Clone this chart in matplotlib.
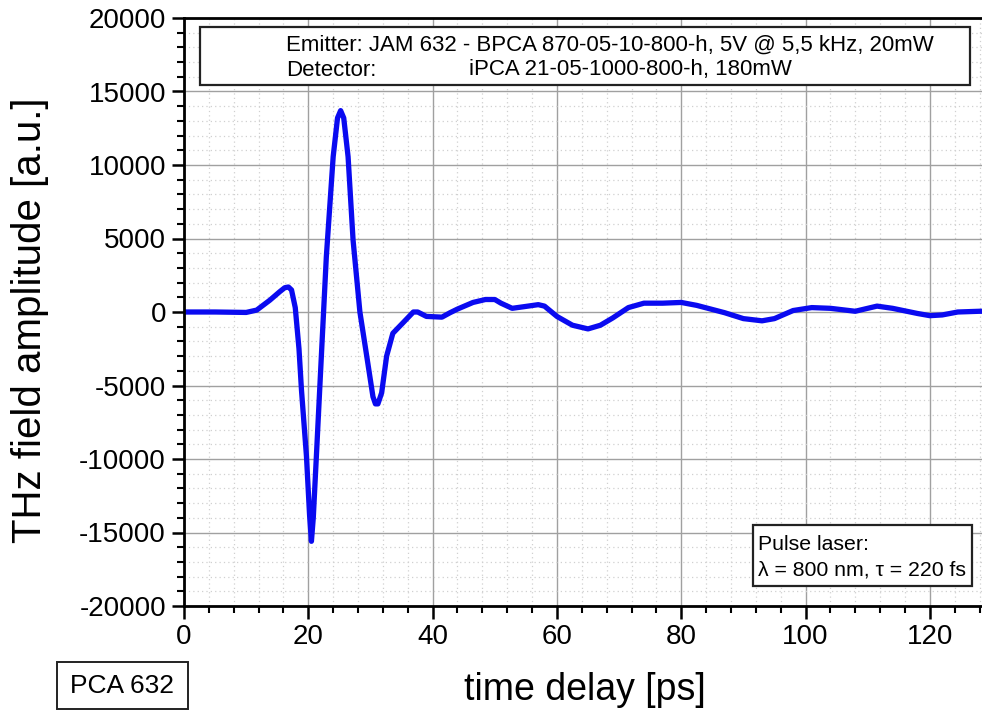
import matplotlib
matplotlib.use("Agg")
import matplotlib.pyplot as plt
from matplotlib.patches import Rectangle
from matplotlib.ticker import MultipleLocator

plt.rcParams["font.family"] = ["Liberation Sans", "DejaVu Sans"]
plt.rcParams["axes.unicode_minus"] = False

# time delay [ps] and THz field amplitude [a.u.]
delay_ps = [0, 5, 10, 11.7, 13.8, 15.4, 16.2, 16.8, 17.3, 17.9, 18.5, 18.9,
            19.7, 20.2, 20.5, 20.8, 21.3, 22.1, 22.9, 24.0, 24.7, 25.2, 25.7,
            26.4, 27.2, 28.3, 29.4, 30.4, 30.8, 31.2, 31.8, 32.6, 33.6, 35.2,
            36.9, 37.6, 39.0, 41.5, 42.8, 44.0, 46.5, 48.5, 50.0, 51.0, 52.8,
            54.5, 57.0, 58.0, 60.0, 62.5, 65.0, 67.0, 69.0, 71.5, 74.0, 77.0,
            80.0, 82.5, 87.0, 90.0, 93.0, 95.0, 98.0, 101.0, 104.0, 108.0,
            111.5, 114.0, 118.0, 120.0, 122.0, 124.5, 128.0, 130.0]
amplitude = [0, 0, -30, 130, 800, 1380, 1650, 1700, 1500, 300, -2500, -5300,
             -9800, -13800, -15600, -14000, -9800, -3000, 3760, 10560, 13200,
             13700, 13200, 10560, 4900, 0, -3000, -5760, -6250, -6250, -5500,
             -3000, -1450, -750, 0, 0, -300, -350, -50, 200, 650, 850, 850,
             600, 250, 350, 500, 400, -300, -900, -1150, -900, -400, 300, 600,
             600, 650, 450, -50, -450, -600, -450, 100, 300, 250, 50, 400,
             250, -100, -250, -200, 0, 50, 50]

x_label = "time delay [ps]"
y_label = "THz field amplitude [a.u.]"
info_lines = ["Emitter: JAM 632 - BPCA 870-05-10-800-h, 5V @ 5,5 kHz, 20mW",
              "Detector:", "iPCA 21-05-1000-800-h, 180mW"]
laser_lines = ["Pulse laser:", "\u03bb = 800 nm, \u03c4 = 220 fs"]
sample_label = "PCA 632"

W, H = 982, 715
fig = plt.figure(figsize=(W / 100, H / 100), dpi=100)


def fx(px):
    return px / W


def fy(py):
    return 1 - py / H


ax = fig.add_axes([fx(184), fy(606), fx(992) - fx(184), fy(18) - fy(606)])
ax.plot(delay_ps, amplitude, color="#0a0af0", lw=3.8, solid_joinstyle="round")

ax.set_xlim(0, 130)
ax.set_ylim(-20000, 20000)
ax.xaxis.set_major_locator(MultipleLocator(20))
ax.xaxis.set_minor_locator(MultipleLocator(4))
ax.yaxis.set_major_locator(MultipleLocator(5000))
ax.yaxis.set_minor_locator(MultipleLocator(1000))

ax.grid(which="major", color="#a0a0a0", lw=1.0, ls="-")
ax.grid(which="minor", color="#d0d0d0", lw=0.9, ls=(0, (1, 2.5)))
ax.set_axisbelow(True)

for side in ["left", "bottom", "top"]:
    ax.spines[side].set_linewidth(2)
ax.spines["right"].set_visible(False)
ax.tick_params(which="major", direction="out", length=9, width=1.8,
               labelsize=20, pad=4)
ax.tick_params(which="minor", direction="out", length=5, width=1.5)

fig.text(fx(30), fy(320), y_label, rotation=90, ha="center", va="center",
         fontsize=29)
fig.text(fx(585), fy(690), x_label, ha="center", va="center", fontsize=27)

# info box at the top
fig.patches.append(Rectangle((fx(200), fy(85)), fx(970) - fx(200),
                             fy(27) - fy(85), transform=fig.transFigure,
                             facecolor="white", edgecolor="#222222", lw=1.6))
fig.text(fx(286), fy(45), info_lines[0], fontsize=16, va="center")
fig.text(fx(286), fy(70), info_lines[1], fontsize=16, va="center")
fig.text(fx(469), fy(70), info_lines[2], fontsize=16, va="center")

# laser box bottom right
fig.patches.append(Rectangle((fx(753), fy(586)), fx(972) - fx(753),
                             fy(525) - fy(586), transform=fig.transFigure,
                             facecolor="white", edgecolor="#222222", lw=1.6))
fig.text(fx(758), fy(545), laser_lines[0], fontsize=15.3, va="center")
fig.text(fx(758), fy(570), laser_lines[1], fontsize=15.3, va="center")

# sample box below the axes
fig.patches.append(Rectangle((fx(57), fy(709)), fx(188) - fx(57),
                             fy(662) - fy(709), transform=fig.transFigure,
                             facecolor="white", edgecolor="#222222", lw=1.4))
fig.text(fx(122), fy(686), sample_label, fontsize=19, ha="center",
         va="center")

fig.savefig("out.png", dpi=100)
